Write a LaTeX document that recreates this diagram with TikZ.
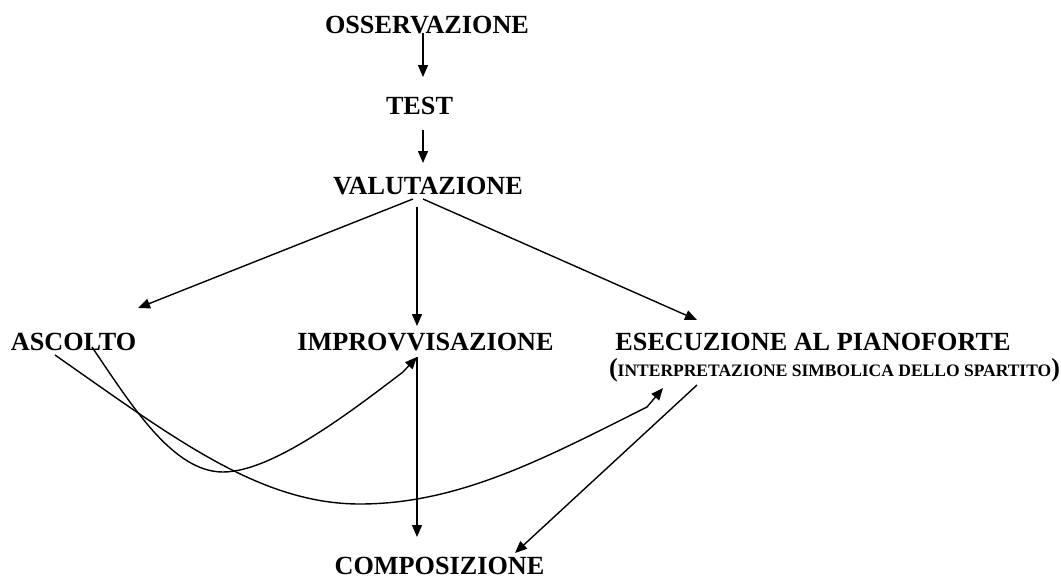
\documentclass[tikz,border=0pt]{standalone}
\usepackage{fontspec}
\setmainfont{Liberation Serif}
\usetikzlibrary{arrows.meta}
\begin{document}
\begin{tikzpicture}[x=1pt,y=-1pt,
  lbl/.style={anchor=base,inner sep=0pt,font=\bfseries\fontsize{26.2}{30}\selectfont},
  sublbl/.style={anchor=base,inner sep=0pt,font=\bfseries\fontsize{17.5}{20}\selectfont},
  arr/.style={line width=1.4pt,-{Triangle[length=12pt,width=10pt]}},
  con/.style={line width=1.4pt}]
\useasboundingbox (0,0) rectangle (1061,581);
\node[lbl] (osse) at (427,33) {OSSERVAZIONE};
\node[lbl] (test) at (419.5,114) {TEST};
\node[lbl] (valu) at (428,194) {VALUTAZIONE};
\node[lbl] (asc) at (73.5,350) {ASCOLTO};
\node[lbl] (impr) at (425.5,350) {IMPROVVISAZIONE};
\node[lbl] (esec) at (813,350) {ESECUZIONE AL PIANOFORTE};
\node[sublbl] (sub) at (834.5,376) {{\fontsize{26}{30}\selectfont(}INTERPRETAZIONE SIMBOLICA DELLO SPARTITO{\fontsize{26}{30}\selectfont)}};
\node[lbl] (comp) at (439.5,574) {COMPOSIZIONE};
% straight connectors
\draw[arr] ([shift={(-4,0)}]osse.base) -- ([shift={(3.5,-37)}]test.base);
\draw[arr] ([shift={(3.5,16)}]test.base) -- ([shift={(-5,-31)}]valu.base);
\draw[arr] ([shift={(-15,5)}]valu.base) -- ([shift={(64.5,-42)}]asc.base);
\draw[arr] ([shift={(-11,13)}]valu.base) -- ([shift={(-8.5,-24)}]impr.base);
\draw[arr] ([shift={(-5,5)}]valu.base) -- ([shift={(-116,-30)}]esec.base);
\draw[arr] ([shift={(-8.5,7)}]impr.base) -- ([shift={(-22.5,-37)}]comp.base);
\draw[arr] ([shift={(-137.5,9)}]sub.base) -- ([shift={(75.5,-21)}]comp.base);
% curved connectors from ASCOLTO
\draw[arr] ([shift={(18.5,-3)}]asc.base) .. controls (132,406) and (173,472) .. (223,472)
  .. controls (273,472) and (353,410) .. (403,372) -- ([shift={(-8.5,7)}]impr.base);
\draw[arr] ([shift={(-18.5,5)}]asc.base) .. controls (175,439) and (260,504) .. (360,504)
  .. controls (460,504) and (547,457) .. (647,407) -- ([shift={(-171.5,12)}]sub.base);
\end{tikzpicture}
\end{document}
